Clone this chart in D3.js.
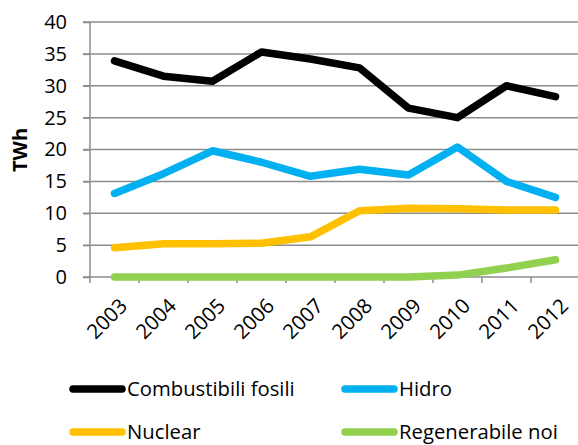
<!DOCTYPE html>
<html><head><meta charset="utf-8">
<script src="https://cdn.jsdelivr.net/npm/d3@7"></script>
<style>body{margin:0;background:#fff}svg{display:block}</style>
</head><body>
<script>
const years = ["2003","2004","2005","2006","2007","2008","2009","2010","2011","2012"];
const fosili = [33.9,31.5,30.7,35.3,34.2,32.8,26.5,25.0,30.0,28.3];
const hidro = [13.1,16.2,19.8,18.0,15.8,16.9,16.0,20.4,15.0,12.5];
const nuclear = [4.6,5.2,5.2,5.3,6.3,10.4,10.8,10.7,10.5,10.5];
const regen = [0,0,0,0,0,0,0,0.3,1.4,2.7];
const yTicks = [0,5,10,15,20,25,30,35,40];
const seriesNames = ["Combustibili fosili","Hidro","Nuclear","Regenerabile noi"];
const seriesColors = ["#000000","#00b0f0","#ffc000","#92d050"];
const seriesData = [fosili,hidro,nuclear,regen];

const W=578,H=445;
const svg=d3.select("body").append("svg").attr("width",W).attr("height",H);
const font="'Open Sans', sans-serif";
const x=d3.scaleBand().domain(years).range([90,580]);
const y=d3.scaleLinear().domain([0,40]).range([277,22]);

// gridlines
svg.append("g").selectAll("line").data(yTicks.filter(d=>d>0)).join("line")
  .attr("x1",83).attr("x2",W).attr("y1",d=>y(d)).attr("y2",d=>y(d))
  .attr("stroke","#8c8c8c").attr("stroke-width",1.5);

// y axis
const ya=svg.append("g").attr("transform","translate(90,0)")
  .call(d3.axisLeft(y).tickValues(yTicks).tickSize(7).tickPadding(16));
ya.select(".domain").attr("stroke","#8c8c8c").attr("stroke-width",1.5).attr("d","M0,22V277");
ya.selectAll(".tick line").attr("stroke","#8c8c8c").attr("stroke-width",1.5);
ya.selectAll("text").attr("font-family",font).attr("font-size",20).attr("fill","#000");

// x axis
const xa=svg.append("g").attr("transform","translate(0,277)")
  .call(d3.axisBottom(x).tickSize(0).tickFormat(""));
xa.select(".domain").attr("stroke","#8c8c8c").attr("stroke-width",1.5).attr("d","M83,0H580");
const bounds=d3.range(years.length+1).map(i=>90+i*x.step());
svg.append("g").selectAll("line").data(bounds).join("line")
  .attr("x1",d=>d).attr("x2",d=>d).attr("y1",277).attr("y2",283)
  .attr("stroke","#8c8c8c").attr("stroke-width",1.5);
svg.append("g").selectAll("text").data(years).join("text")
  .attr("transform",d=>`translate(${x(d)+x.bandwidth()/2+4},${297}) rotate(-45)`)
  .attr("text-anchor","end").attr("dy","0.7em")
  .attr("font-family",font).attr("font-size",20.5).text(d=>d);

// y label
svg.append("text").attr("transform","translate(27,150) rotate(-90)")
  .attr("text-anchor","middle").attr("font-family",font).attr("font-weight","bold")
  .attr("font-size",20).text("TWh");

// lines
const line=d3.line().x((d,i)=>x(years[i])+x.bandwidth()/2).y(d=>y(d));
svg.append("g").selectAll("path").data(seriesData.slice().reverse()).join("path")
  .attr("d",line).attr("fill","none")
  .attr("stroke",(d,i)=>seriesColors[3-i]).attr("stroke-width",7.5)
  .attr("stroke-linecap","round").attr("stroke-linejoin","round");

// legend
const legPos=[[70,389],[342,389],[70,432],[342,432]];
const lg=svg.append("g").selectAll("g").data(seriesNames).join("g")
  .attr("transform",(d,i)=>`translate(${legPos[i][0]},${legPos[i][1]})`);
lg.append("line").attr("x1",3).attr("x2",52).attr("y1",0).attr("y2",0)
  .attr("stroke",(d,i)=>seriesColors[i]).attr("stroke-width",7.5).attr("stroke-linecap","round");
lg.append("text").attr("x",57).attr("y",0).attr("dy","0.35em")
  .attr("font-family",font).attr("font-size",20.3).text(d=>d);
</script>
</body></html>
